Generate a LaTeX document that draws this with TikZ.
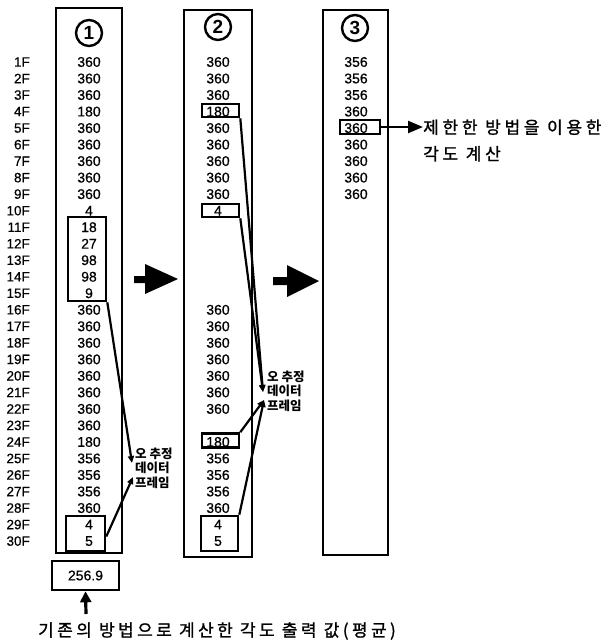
\documentclass[tikz,border=0pt]{standalone}
\usepackage{fontspec}
\setmainfont{Liberation Sans}
\newfontfamily\numfont[FakeBold=0.6]{Liberation Sans}
\newfontfamily\cjk{Noto Sans CJK KR}
\newfontfamily\cjkA[LetterSpace=22,FakeBold=1.2]{Noto Sans CJK KR}
\newfontfamily\cjkB[LetterSpace=20,FakeBold=1.2]{Noto Sans CJK KR}
\usetikzlibrary{arrows.meta}
\tikzset{
  col/.style={draw, line width=2.2pt, rectangle, inner sep=0pt},
  val/.style={inner sep=0pt, font=\numfont\fontsize{14}{16}\selectfont},
  flab/.style={inner sep=0pt, anchor=east, font=\numfont\fontsize{13.5}{16}\selectfont},
  hbox/.style={draw, line width=2.6pt, rectangle, inner sep=0pt},
  num/.style={draw, circle, line width=2.4pt, minimum size=26pt, inner sep=0pt, font=\bfseries\fontsize{19}{19}\selectfont},
  conn/.style={line width=2.2pt, -{Triangle[length=7pt,width=6pt]}},
  errlab/.style={inner sep=0pt, anchor=west, align=left, font=\cjk\bfseries\fontsize{12.5}{14.5}\selectfont},
  blockarrow/.style={fill=black, draw=none}
}
\begin{document}
\begin{tikzpicture}[x=1pt,y=-1pt]
\useasboundingbox (0,0) rectangle (611,643);
% columns
\node[col, minimum width=66pt, minimum height=545pt] (col1) at (89,280.5) {};
\node[col, minimum width=68pt, minimum height=547pt] (col2) at (218,283.5) {};
\node[col, minimum width=65pt, minimum height=545pt] (col3) at (355.5,282.5) {};
% circled numbers
\node[num] (n1) at (89,33) {1};
\node[num] (n2) at (218,27) {2};
\node[num] (n3) at (355,28) {3};
% floor labels
\foreach \i in {1,...,30} {
  \node[flab] (f\i) at (30,{62+(\i-1)*16.52}) {\i F};
}
% column 1 values
\foreach \v [count=\i] in {360,360,360,180,360,360,360,360,360,4,18,27,98,98,9,360,360,360,360,360,360,360,360,180,356,356,356,360,4,5} {
  \node[val] (a\i) at (89,{62+(\i-1)*16.52}) {\v};
}
% column 2 values
\foreach \i/\v in {1/360,2/360,3/360,4/180,5/360,6/360,7/360,8/360,9/360,10/4,16/360,17/360,18/360,19/360,20/360,21/360,22/360,24/180,25/356,26/356,27/356,28/360,29/4,30/5} {
  \node[val] (b\i) at (218,{62+(\i-1)*16.52}) {\v};
}
% column 3 values
\foreach \v [count=\i] in {356,356,356,360,360,360,360,360,360} {
  \node[val] (c\i) at (356,{62+(\i-1)*16.52}) {\v};
}
% highlight boxes
\node[hbox, minimum width=38pt, minimum height=84pt] (A1) at (87,259) {};
\node[hbox, minimum width=39pt, minimum height=35pt] (A2) at (85.5,533.5) {};
\node[hbox, minimum width=67pt, minimum height=29pt, font=\numfont\fontsize{14}{16}\selectfont] (avg) at (85.5,575.5) {256.9};
\node[hbox, minimum width=37pt, minimum height=13pt] (B1) at (220.5,110.5) {};
\node[hbox, minimum width=37pt, minimum height=13pt] (B2) at (220.5,210.5) {};
\node[hbox, minimum width=37pt, minimum height=14pt] (B3) at (220.5,440.5) {};
\node[hbox, minimum width=37pt, minimum height=35pt] (B4) at (219.5,533.5) {};
\node[hbox, minimum width=40pt, minimum height=14pt] (C1) at (360,127) {};
% error labels
\node[errlab] (E1) at (135,468) {오 추정\\데이터\\프레임};
\node[errlab] (E2) at (267,391) {오 추정\\데이터\\프레임};
\coordinate (e1d) at (132,463);
\coordinate (e1u) at (133,477);
\coordinate (e2d) at (263,392);
\coordinate (e2u) at (264,400);
\draw[conn] (A1.south east) -- (e1d);
\draw[conn] ([yshift=-3pt]A2.east) -- (e1u);
\draw[conn] (B1.south east) -- (e2d);
\draw[conn] (B2.south east) -- (e2d);
\draw[conn] (B3.north east) -- (e2u);
\draw[conn] (B4.north east) -- (e2u);
% right label
\node[inner sep=0pt, anchor=west, align=left, font=\cjkA\fontsize{17}{26.5}\selectfont] (R) at (423,140.5) {제한한 방법을 이용한\\각도 계산};
\coordinate (rtip) at (423,127);
\draw[line width=2.4pt, -{Triangle[length=15pt,width=12pt]}] (C1.east) -- (rtip);
% bottom label
\node[inner sep=0pt, font=\cjkB\fontsize{17}{20}\selectfont] (B) at (217,631) {기존의 방법으로 계산한 각도 출력 값(평균)};
\coordinate (btail) at (86,614);
\draw[line width=3.2pt, -{Triangle[length=11pt,width=11pt]}] (btail) -- (avg.south);
% block arrows
\path[blockarrow] (134,276) -- (145,276) -- (145,264) -- (178,279) -- (145,294) -- (145,283) -- (134,283) -- cycle;
\path[blockarrow] (273,277) -- (287,277) -- (287,265) -- (319,281) -- (287,297) -- (287,285) -- (273,285) -- cycle;
\end{tikzpicture}
\end{document}
